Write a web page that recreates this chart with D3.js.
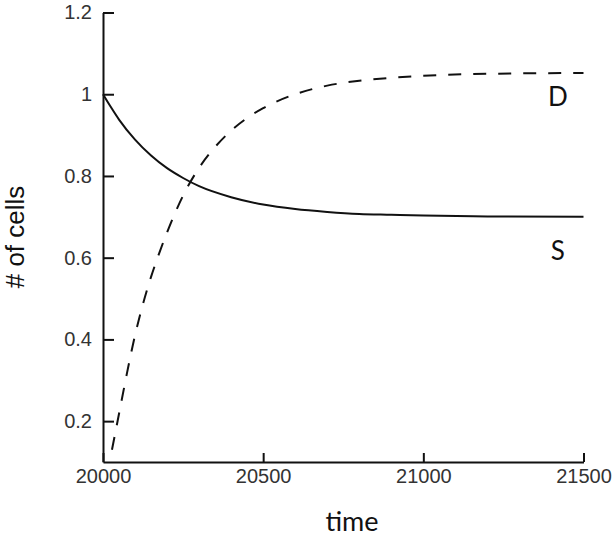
<!DOCTYPE html>
<html>
<head>
<meta charset="utf-8">
<script src="https://cdn.jsdelivr.net/npm/d3@7"></script>
<style>
  html, body { margin: 0; padding: 0; background: #fff; }
  svg { display: block; }
</style>
</head>
<body>
<svg id="chart" width="614" height="539"></svg>
<script>
// ---- data ----
const sTime  = [20000, 20025, 20050, 20100, 20150, 20200, 20250, 20300, 20400, 20500, 20600, 20700, 20800, 20900, 21000, 21200, 21500];
const sValue = [1.000, 0.968, 0.938, 0.889, 0.850, 0.819, 0.795, 0.775, 0.748, 0.730, 0.719, 0.712, 0.707, 0.705, 0.703, 0.701, 0.700];

const dTime  = [20028, 20050, 20075, 20100, 20125, 20150, 20175, 20200, 20250, 20300, 20350, 20400, 20450, 20500, 20600, 20700, 20800, 20900, 21000, 21200, 21500];
const dValue = [0.130, 0.218, 0.318, 0.410, 0.487, 0.553, 0.610, 0.662, 0.752, 0.820, 0.871, 0.911, 0.942, 0.966, 1.000, 1.021, 1.033, 1.040, 1.045, 1.050, 1.052];

const xTicks = [20000, 20500, 21000, 21500];
const yTicks = [0.2, 0.4, 0.6, 0.8, 1, 1.2];
const yTickLabels = ["0.2", "0.4", "0.6", "0.8", "1", "1.2"];
const seriesLabels = ["D", "S"];
const xTitle = "time";
const yTitle = "# of cells";

// ---- drawing ----
const svg = d3.select("#chart");
const x = d3.scaleLinear().domain([20000, 21500]).range([103, 583.5]);
const y = d3.scaleLinear().domain([0.1, 1.2]).range([462, 12.5]);

const xAxis = d3.axisBottom(x).tickValues(xTicks).tickFormat(d3.format("d"))
  .tickSizeInner(-9).tickSizeOuter(0).tickPadding(7);
const yAxis = d3.axisLeft(y).tickValues(yTicks)
  .tickFormat((d, i) => yTickLabels[i])
  .tickSizeInner(-11).tickSizeOuter(0).tickPadding(11);

function styleAxis(g) {
  g.select(".domain").attr("stroke", "#111").attr("stroke-width", 2);
  g.selectAll(".tick line").attr("stroke", "#111").attr("stroke-width", 2);
  g.selectAll(".tick text")
    .attr("fill", "#333")
    .style("font-family", "'Liberation Sans', Arial, sans-serif")
    .style("font-size", "20px");
}

svg.append("g").attr("transform", "translate(0,462)").call(xAxis).call(styleAxis);
svg.append("g").attr("transform", "translate(103,0)").call(yAxis).call(styleAxis);

const line = d3.line().x(d => x(d[0])).y(d => y(d[1])).curve(d3.curveMonotoneX);

svg.append("path")
  .datum(sTime.map((t, i) => [t, sValue[i]]))
  .attr("d", line)
  .attr("fill", "none").attr("stroke", "#111").attr("stroke-width", 2);

svg.append("path")
  .datum(dTime.map((t, i) => [t, dValue[i]]))
  .attr("d", line)
  .attr("fill", "none").attr("stroke", "#111").attr("stroke-width", 2)
  .attr("stroke-dasharray", "13,12");

const labelFont = "Lato, 'Open Sans', sans-serif";
svg.append("text").attr("x", x(21420)).attr("y", y(0.97))
  .attr("text-anchor", "middle").attr("fill", "#111")
  .style("font-family", labelFont).style("font-size", "26px").text(seriesLabels[0]);
svg.append("text").attr("x", x(21420)).attr("y", y(0.595))
  .attr("text-anchor", "middle").attr("fill", "#111")
  .style("font-family", labelFont).style("font-size", "26px").text(seriesLabels[1]);

svg.append("text").attr("x", 352).attr("y", 531)
  .attr("text-anchor", "middle").attr("fill", "#111")
  .style("font-family", labelFont).style("font-size", "27px").text(xTitle);

svg.append("text")
  .attr("transform", "translate(24,237) rotate(-90)")
  .attr("text-anchor", "middle").attr("fill", "#111")
  .style("font-family", "'Liberation Sans', Arial, sans-serif").style("font-size", "26px")
  .text(yTitle);
</script>
</body>
</html>
